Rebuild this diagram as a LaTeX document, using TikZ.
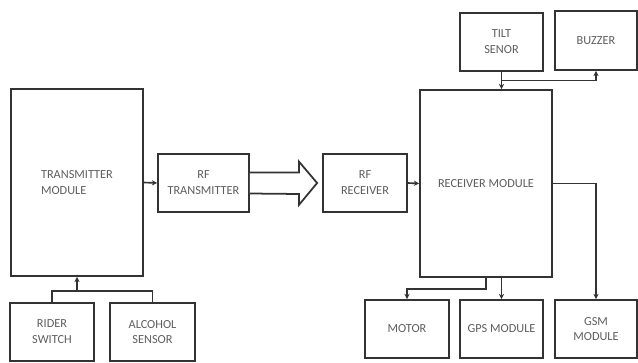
\documentclass[tikz,border=0pt]{standalone}
\usepackage{fontspec}
\setmainfont{Carlito}
\usetikzlibrary{calc,arrows.meta}
\definecolor{BlockLine}{HTML}{333333}
\definecolor{BlockText}{HTML}{5E5E5E}

\begin{document}
\begin{tikzpicture}[x=0.03cm, y=-0.03cm,
    blk/.style={draw=BlockLine, line width=1.5pt, fill=white, inner sep=1pt,
                align=center, text=BlockText, font=\fontsize{10.5}{13.5}\selectfont},
    arr/.style={draw=BlockLine, line width=1.4pt, -{Stealth[length=4.5pt,width=4.5pt]}},
    wire/.style={draw=BlockLine, line width=1.4pt}]
    % =========================================
    % 1. 画布 638x363
    % =========================================
    \useasboundingbox (0,0) rectangle (638,363);

    % =========================================
    % 2. 发射端 (左侧)
    % =========================================
    \node[blk, minimum width=3.96cm, minimum height=5.61cm, align=left] (tm) at (77,182.5) {TRANSMITTER\\MODULE};
    \node[blk, minimum width=2.73cm, minimum height=1.74cm] (rftx) at (203.5,183) {RF\\TRANSMITTER};
    \node[blk, minimum width=2.52cm, minimum height=1.74cm] (rider) at (52,332) {RIDER\\SWITCH};
    \node[blk, minimum width=2.55cm, minimum height=1.74cm] (alc) at (152.5,332) {ALCOHOL\\SENSOR};

    % =========================================
    % 3. 接收端 (右侧)
    % =========================================
    \node[blk, minimum width=2.52cm, minimum height=1.74cm] (rfrx) at (365,183) {RF\\RECEIVER};
    \node[blk, minimum width=3.96cm, minimum height=5.61cm] (rxm) at (486,183.5) {RECEIVER MODULE};
    \node[blk, minimum width=2.49cm, minimum height=1.74cm] (tilt) at (501.5,42) {TILT\\SENOR};
    \node[blk, minimum width=2.46cm, minimum height=1.77cm] (buzz) at (596,40.5) {BUZZER};
    \node[blk, minimum width=2.52cm, minimum height=1.74cm] (motor) at (407,329) {MOTOR};
    \node[blk, minimum width=2.49cm, minimum height=1.74cm] (gps) at (501.5,329) {GPS MODULE};
    \node[blk, minimum width=2.46cm, minimum height=1.74cm] (gsm) at (596,329) {GSM\\MODULE};

    % =========================================
    % 4. 连线
    % =========================================
    % 输入 -> 发射模块
    \coordinate (inj) at ($(tm.south)+(0,14)$);
    \draw[wire] (rider.north) |- (inj) -| (alc.north);
    \draw[arr] (inj) -- (tm.south);
    \draw[arr] (tm.east) -- (rftx.west);

    % 无线链路 (空心大箭头)
    \draw[BlockLine, line width=1.5pt, fill=white, line join=miter]
        ($(rftx.east)+(0,-10.5)$) -- ++(49,0) -- ++(0,-11) -- ($(rfrx.west)+(-5,0)$)
        -- ($(rftx.east)+(49,22)$) -- ++(0,-11) -- ($(rftx.east)+(0,10.5)$);

    % 接收模块
    \draw[arr] (rfrx.east) -- (rxm.west);
    \draw[arr] (tilt.south) -- (tilt.south |- rxm.north);
    \draw[arr] ($(tilt.south)!0.5!(tilt.south |- rxm.north)$) -| (buzz.south);
    \draw[arr] (rxm.south) -- ++(0,11) -| (motor.north);
    \draw[arr] (rxm.south -| gps.north) -- (gps.north);
    \draw[arr] (rxm.east) -| (gsm.north);

\end{tikzpicture}
\end{document}
